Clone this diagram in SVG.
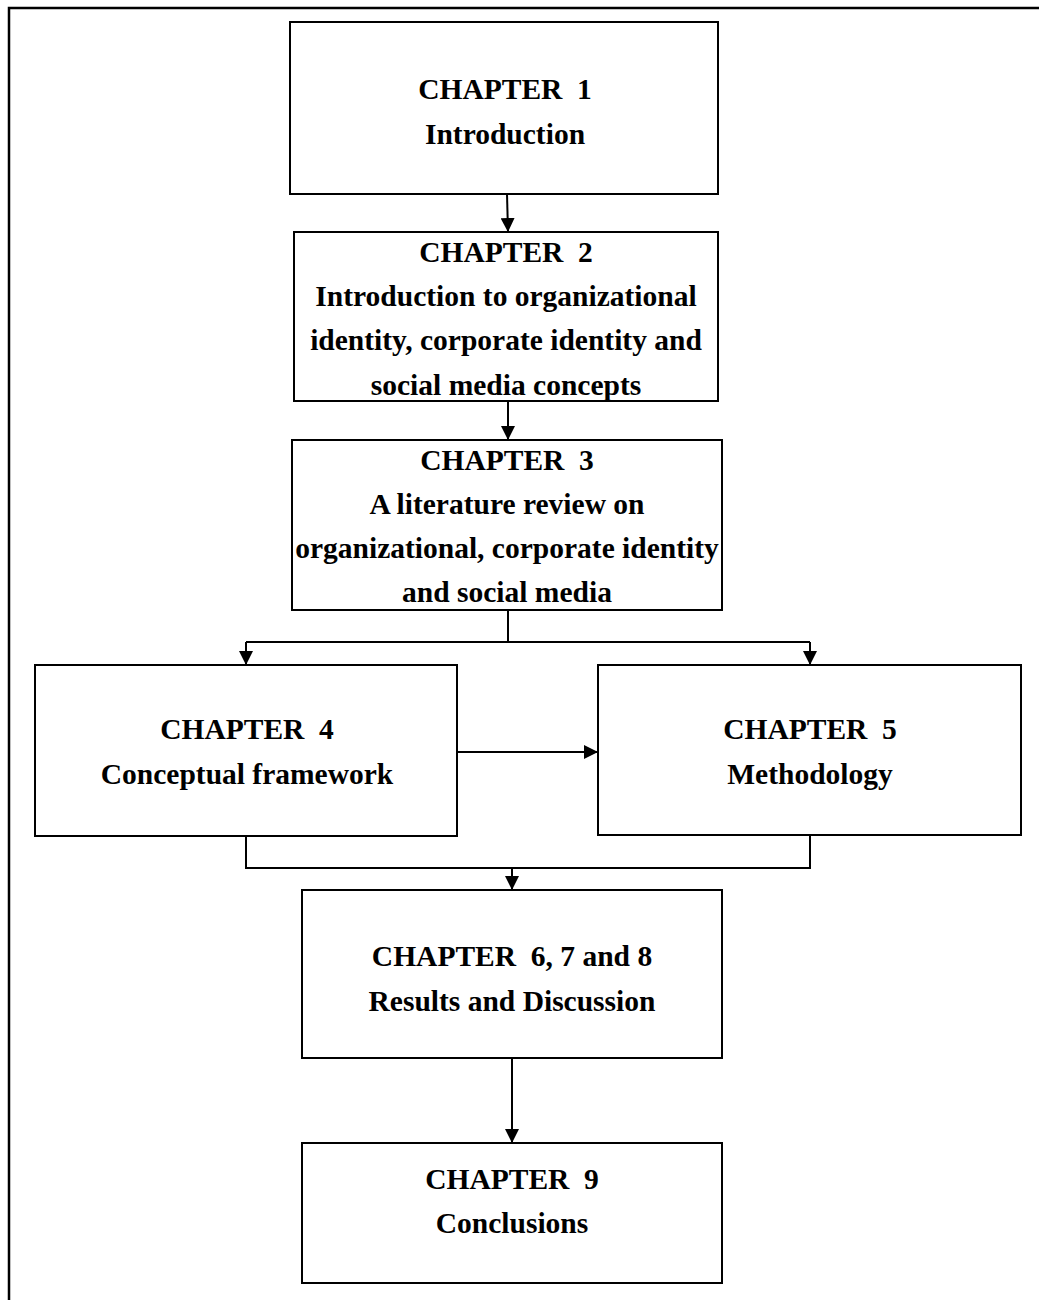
<svg xmlns="http://www.w3.org/2000/svg" width="1039" height="1300" viewBox="0 0 1039 1300">
<defs>
<marker id="ah" viewBox="0 0 14 14" refX="14" refY="7" markerWidth="14" markerHeight="14" markerUnits="userSpaceOnUse" orient="auto">
<path d="M0,0 L14,7 L0,14 Z" fill="#000"/>
</marker>
<style>
.box{fill:#fff;stroke:#000;stroke-width:2}
.t{font-family:"Liberation Serif","Times New Roman",serif;font-weight:bold;font-size:29.5px;text-anchor:middle;fill:#000}
.c{fill:none;stroke:#000;stroke-width:2}
.a{fill:none;stroke:#000;stroke-width:2;marker-end:url(#ah)}
</style>
</defs>
<rect width="1039" height="1300" fill="#fff"/>
<path d="M9,1300 V8 H1039" fill="none" stroke="#000" stroke-width="2.5"/>
<g id="connectors">
<line class="a" x1="507" y1="194" x2="508" y2="232"/>
<line class="a" x1="508" y1="401" x2="508" y2="440"/>
<polyline class="c" points="508,610 508,642"/>
<polyline class="c" points="246,642 810,642"/>
<line class="a" x1="246" y1="642" x2="246" y2="665"/>
<line class="a" x1="810" y1="642" x2="810" y2="665"/>
<line class="a" x1="457" y1="752" x2="598" y2="752"/>
<polyline class="c" points="246,836 246,868 810,868 810,835"/>
<line class="a" x1="512" y1="868" x2="512" y2="890"/>
<line class="a" x1="512" y1="1058" x2="512" y2="1143"/>
</g>
<g id="ch1">
<rect class="box" x="290" y="22" width="428" height="172"/>
<text class="t" xml:space="preserve" x="505" y="99">CHAPTER  1</text>
<text class="t" x="505" y="144">Introduction</text>
</g>
<g id="ch2">
<rect class="box" x="294" y="232" width="424" height="169"/>
<text class="t" xml:space="preserve" x="506" y="262">CHAPTER  2</text>
<text class="t" x="506" y="306">Introduction to organizational</text>
<text class="t" x="506" y="350">identity, corporate identity and</text>
<text class="t" x="506" y="395">social media concepts</text>
</g>
<g id="ch3">
<rect class="box" x="292" y="440" width="430" height="170"/>
<text class="t" xml:space="preserve" x="507" y="470">CHAPTER  3</text>
<text class="t" x="507" y="514">A literature review on</text>
<text class="t" x="507" y="558">organizational, corporate identity</text>
<text class="t" x="507" y="602">and social media</text>
</g>
<g id="ch4">
<rect class="box" x="35" y="665" width="422" height="171"/>
<text class="t" xml:space="preserve" x="247" y="739">CHAPTER  4</text>
<text class="t" x="247" y="784">Conceptual framework</text>
</g>
<g id="ch5">
<rect class="box" x="598" y="665" width="423" height="170"/>
<text class="t" xml:space="preserve" x="810" y="739">CHAPTER  5</text>
<text class="t" x="810" y="784">Methodology</text>
</g>
<g id="ch6">
<rect class="box" x="302" y="890" width="420" height="168"/>
<text class="t" xml:space="preserve" x="512" y="966">CHAPTER  6, 7 and 8</text>
<text class="t" x="512" y="1011">Results and Discussion</text>
</g>
<g id="ch9">
<rect class="box" x="302" y="1143" width="420" height="140"/>
<text class="t" xml:space="preserve" x="512" y="1189">CHAPTER  9</text>
<text class="t" x="512" y="1233">Conclusions</text>
</g>
</svg>
